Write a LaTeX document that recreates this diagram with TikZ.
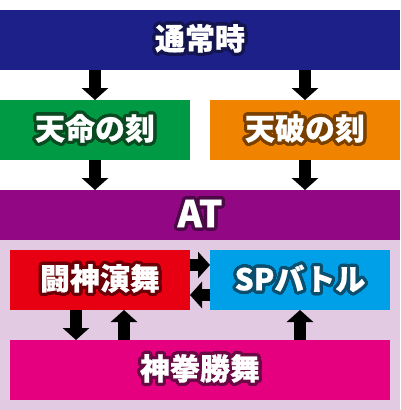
\documentclass[tikz,border=0pt]{standalone}
\usepackage{fontspec}
\usepackage{contour}
\usepackage{tikz}
\usetikzlibrary{positioning,arrows.meta}

\newfontfamily\jpfont{Noto Sans CJK JP}[BoldFeatures={FakeBold=0.6}]
\contourlength{3.2pt}
\contournumber{32}

\definecolor{navy}{HTML}{1D2088}
\definecolor{navyline}{HTML}{14144E}
\definecolor{grn}{HTML}{009944}
\definecolor{grnline}{HTML}{0B4A20}
\definecolor{orng}{HTML}{F08300}
\definecolor{orngline}{HTML}{7A4000}
\definecolor{purp}{HTML}{920783}
\definecolor{purpline}{HTML}{4A0A45}
\definecolor{lavender}{HTML}{E2CAE2}
\definecolor{rd}{HTML}{E60012}
\definecolor{rdline}{HTML}{6B0008}
\definecolor{cyn}{HTML}{00A0E9}
\definecolor{cynline}{HTML}{0B4F6E}
\definecolor{mgnt}{HTML}{E4007F}
\definecolor{mgntline}{HTML}{6A0A44}

\begin{document}
\begin{tikzpicture}[x=1pt,y=-1pt,on grid,
  box/.style={inner sep=0pt,outer sep=0pt,minimum height=60pt,text=white,
    font=\jpfont\bfseries\fontsize{30}{30}\selectfont},
  blk/.style={-{Triangle[width=26pt,length=12pt]},line width=12.5pt,black}]
\useasboundingbox (0,0) rectangle (400,410);
\fill[lavender] (0,240) rectangle (400,410);

\node[box, fill=navy, minimum width=400pt] (normal) at (200,40) {\contour{navyline}{通常時}};
\node[box, fill=grn, minimum width=190pt] (tenmei) [below left=90pt and 105pt of normal] {\contour{grnline}{天命の刻}};
\node[box, fill=orng, minimum width=190pt] (tenpa) [right=210pt of tenmei] {\contour{orngline}{天破の刻}};
\node[box, fill=purp, minimum width=400pt, minimum height=50pt,
  font=\jpfont\bfseries\fontsize{37}{37}\selectfont] (at) [below right=85pt and 105pt of tenmei] {\contour{purpline}{AT}};
\node[box, fill=rd, minimum width=180pt] (touzin) [below left=65pt and 100pt of at] {\contour{rdline}{闘神演舞}};
\node[box, fill=cyn, minimum width=180pt] (sp) [right=200pt of touzin] {\contour{cynline}{SPバトル}};
\node[box, fill=mgnt, minimum width=380pt] (shinken) [below right=90pt and 100pt of touzin] {\contour{mgntline}{神拳勝舞}};

\path[blk]
(normal.south -| tenmei) edge (tenmei.north)
(normal.south -| tenpa) edge (tenpa.north)
(tenmei.south) edge (at.north -| tenmei)
(tenpa.south) edge (at.north -| tenpa)

([yshift=15pt]touzin.east) edge ([yshift=15pt]sp.west)
([yshift=-15pt]sp.west) edge ([yshift=-15pt]touzin.east)

([xshift=-24pt]touzin.south) edge ([xshift=-24pt]touzin.south |- shinken.north)
([xshift=24pt]touzin.south |- shinken.north) edge ([xshift=24pt]touzin.south)
(shinken.north -| sp) edge (sp.south)
; %end path
\end{tikzpicture}
\end{document}
